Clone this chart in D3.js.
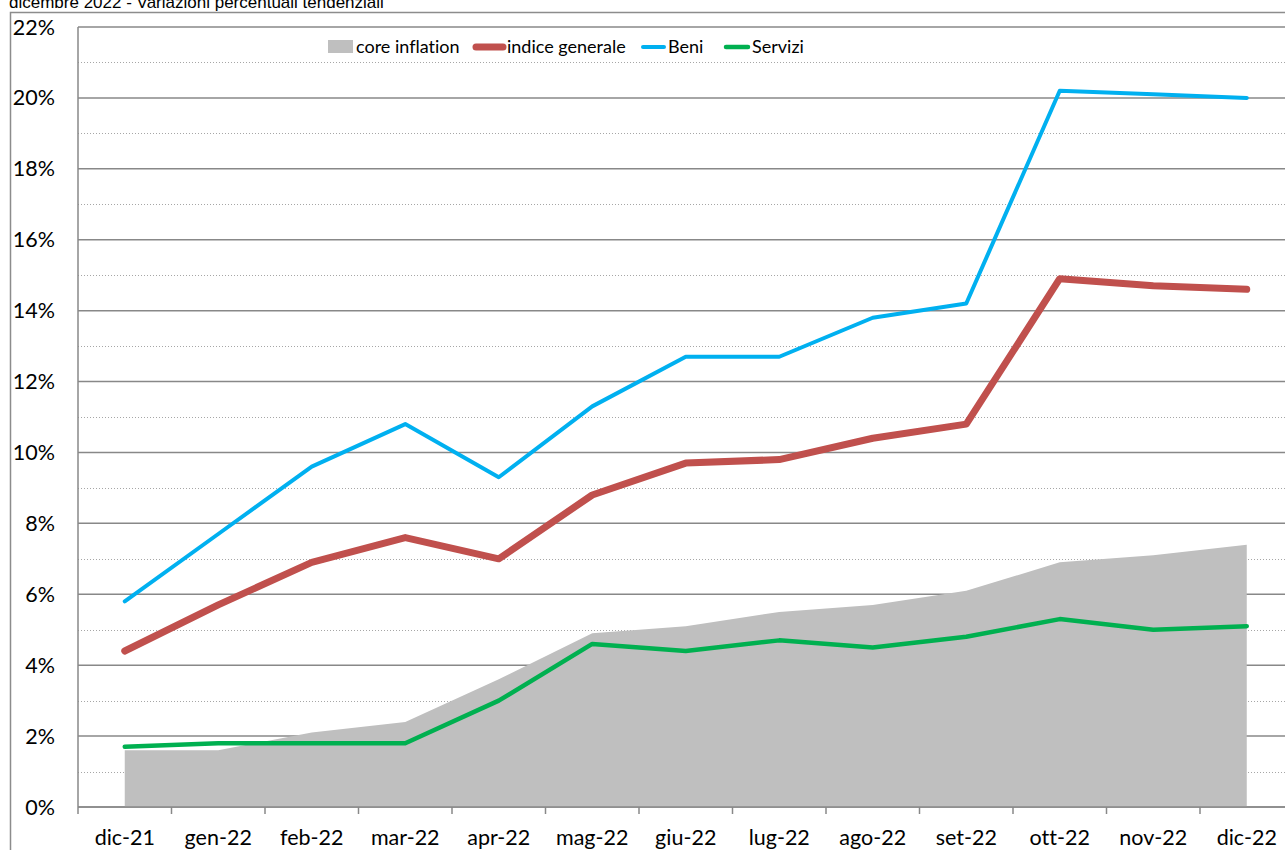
<!DOCTYPE html>
<html>
<head>
<meta charset="utf-8">
<script src="https://cdn.jsdelivr.net/npm/d3@7"></script>
<style>
  body { margin: 0; background: #fff; overflow: hidden; }
  svg { display: block; }
  text { font-variant-ligatures: none; }
</style>
</head>
<body>
<script>
// data
const mesi = ["dic-21","gen-22","feb-22","mar-22","apr-22","mag-22","giu-22","lug-22","ago-22","set-22","ott-22","nov-22","dic-22"];
const coreInflation = [1.6, 1.6, 2.1, 2.4, 3.6, 4.9, 5.1, 5.5, 5.7, 6.1, 6.9, 7.1, 7.4];
const indiceGenerale = [4.4, 5.7, 6.9, 7.6, 7.0, 8.8, 9.7, 9.8, 10.4, 10.8, 14.9, 14.7, 14.6];
const beni = [5.8, 7.7, 9.6, 10.8, 9.3, 11.3, 12.7, 12.7, 13.8, 14.2, 20.2, 20.1, 20.0];
const servizi = [1.7, 1.8, 1.8, 1.8, 3.0, 4.6, 4.4, 4.7, 4.5, 4.8, 5.3, 5.0, 5.1];
const yTicks = [0, 2, 4, 6, 8, 10, 12, 14, 16, 18, 20, 22];
const yMinor = [1, 3, 5, 7, 9, 11, 13, 15, 17, 19, 21];

const width = 1285;
const height = 850;
const plotLeft = 78, plotTop = 27, plotBottom = 807;
const step = 93.5;

const svg = d3.select("body").append("svg")
    .attr("width", width)
    .attr("height", height);

const x = d3.scaleBand()
    .domain(mesi)
    .range([plotLeft, plotLeft + step * mesi.length])
    .padding(0);
const y = d3.scaleLinear()
    .domain([0, 22])
    .range([plotBottom, plotTop]);
const cx = d => x(d) + x.bandwidth() / 2;

// title (sits right at the top edge, like in the original)
svg.append("text")
    .attr("x", 9).attr("y", 8)
    .style("font-family", "Liberation Sans, Arial, sans-serif")
    .style("font-size", "17px")
    .attr("fill", "#000")
    .text("dicembre 2022 - Variazioni percentuali tendenziali");

// outer frame
svg.append("path")
    .attr("d", `M10.5,${height} V12.5 H${width}`)
    .attr("fill", "none")
    .attr("stroke", "#8c8c8c")
    .attr("stroke-width", 1.5);

// gridlines
svg.append("g").selectAll("line")
    .data(yMinor).enter().append("line")
    .attr("x1", plotLeft).attr("x2", width)
    .attr("y1", d => Math.round(y(d)) + 0.5).attr("y2", d => Math.round(y(d)) + 0.5)
    .attr("stroke", "#a6a6a6")
    .attr("stroke-dasharray", "1,2");

svg.append("g").selectAll("line")
    .data(yTicks).enter().append("line")
    .attr("x1", plotLeft).attr("x2", width)
    .attr("y1", d => y(d)).attr("y2", d => y(d))
    .attr("stroke", "#888")
    .attr("stroke-width", 1.5);

// core inflation area
const area = d3.area()
    .x((d, i) => cx(mesi[i]))
    .y0(y(0))
    .y1(d => y(d));
svg.append("path")
    .datum(coreInflation)
    .attr("d", area)
    .attr("fill", "#bfbfbf");

// lines
const line = d3.line()
    .x((d, i) => cx(mesi[i]))
    .y(d => y(d));

const series = [
    {values: servizi, color: "#00b050", w: 4.5},
    {values: indiceGenerale, color: "#c0504d", w: 7},
    {values: beni, color: "#00b0f0", w: 4}
];
series.forEach(s => {
    svg.append("path")
        .datum(s.values)
        .attr("d", line)
        .attr("fill", "none")
        .attr("stroke", s.color)
        .attr("stroke-width", s.w)
        .attr("stroke-linecap", "round")
        .attr("stroke-linejoin", "round");
});

// axes
const xAxis = svg.append("g")
    .attr("transform", `translate(0,${plotBottom})`);
xAxis.append("line")
    .attr("x1", plotLeft).attr("x2", width)
    .attr("stroke", "#888").attr("stroke-width", 1.5);
xAxis.selectAll(".tick")
    .data(mesi).enter().append("line")
    .attr("x1", d => x(d)).attr("x2", d => x(d))
    .attr("y1", 0).attr("y2", 7)
    .attr("stroke", "#888").attr("stroke-width", 1.5);
xAxis.selectAll("text")
    .data(mesi).enter().append("text")
    .attr("x", d => cx(d))
    .attr("y", 38)
    .attr("text-anchor", "middle")
    .style("font-family", "Lato, sans-serif")
    .style("font-size", "21.5px")
    .attr("fill", "#000")
    .text(d => d);

svg.append("line")
    .attr("x1", plotLeft).attr("x2", plotLeft)
    .attr("y1", plotTop).attr("y2", plotBottom)
    .attr("stroke", "#888").attr("stroke-width", 1.5);

svg.append("g").selectAll("text")
    .data(yTicks).enter().append("text")
    .attr("x", 55)
    .attr("y", d => y(d))
    .attr("dy", "0.35em")
    .attr("text-anchor", "end")
    .style("font-family", "Lato, sans-serif")
    .style("font-size", "21.5px")
    .attr("fill", "#000")
    .text(d => d + "%");

// legend
const legend = [
    {name: "core inflation", color: "#bfbfbf", type: "box", x: 328, tx: 356},
    {name: "indice generale", color: "#c0504d", type: "line", w: 7, x: 476, tx: 507},
    {name: "Beni", color: "#00b0f0", type: "line", w: 4, x: 643, tx: 668},
    {name: "Servizi", color: "#00b050", type: "line", w: 4.5, x: 726, tx: 752}
];
const lg = svg.append("g");
legend.forEach(l => {
    if (l.type === "box") {
        lg.append("rect").attr("x", l.x).attr("y", 40).attr("width", 25).attr("height", 13).attr("fill", l.color);
    } else {
        lg.append("line").attr("x1", l.x).attr("x2", l.tx - 4).attr("y1", 47).attr("y2", 47)
            .attr("stroke", l.color).attr("stroke-width", l.w).attr("stroke-linecap", "round");
    }
    lg.append("text")
        .attr("x", l.tx).attr("y", 47)
        .attr("dy", "0.35em")
        .style("font-family", "Lato, sans-serif")
        .style("font-size", "18px")
        .attr("fill", "#000")
        .text(l.name);
});
</script>
</body>
</html>
